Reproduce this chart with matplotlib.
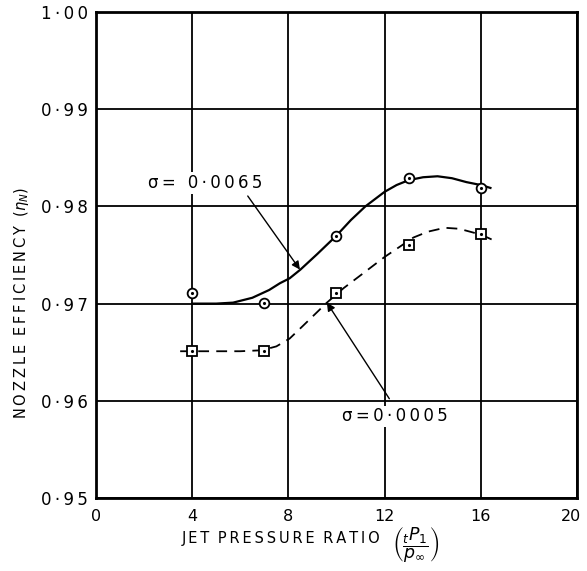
import matplotlib.pyplot as plt
import matplotlib as mpl
import matplotlib.transforms as mtrans

mpl.rcParams['font.family'] = ['DejaVu Sans']
mpl.rcParams['mathtext.fontset'] = 'dejavusans'

# test points
pr_points = [4, 7, 10, 13, 16]
eff_sigma_65 = [0.9711, 0.9701, 0.9770, 0.9829, 0.9819]
eff_sigma_05 = [0.9651, 0.9651, 0.9711, 0.9760, 0.9772]

# faired curves through the points
pr_fair_65 = [4.0, 5.0, 5.7, 6.5, 7.2, 7.65, 8.05, 8.5, 9.2, 10.0, 10.6, 11.2, 12.0, 12.5, 13.0, 13.6, 14.2, 14.8, 15.4, 16.0, 16.4]
eff_fair_65 = [0.9700, 0.9700, 0.9701, 0.9706, 0.9714, 0.9721, 0.9726, 0.9735, 0.9751, 0.9770, 0.9786, 0.9800, 0.9815, 0.9822, 0.9827, 0.9830, 0.9831, 0.9829, 0.9825, 0.9822, 0.9819]

pr_fair_05 = [3.5, 4.0, 5.0, 6.0, 6.9, 7.5, 8.05, 8.6, 9.1, 9.6, 10.3, 11.1, 12.0, 12.6, 13.2, 13.8, 14.5, 15.1, 15.7, 16.1, 16.45]
eff_fair_05 = [0.9651, 0.9651, 0.9651, 0.9651, 0.9652, 0.9656, 0.9664, 0.9677, 0.9689, 0.9701, 0.9716, 0.9731, 0.9748, 0.9758, 0.9768, 0.9774, 0.9778, 0.9777, 0.9773, 0.9770, 0.9766]

x_ticks = [0, 4, 8, 12, 16, 20]
y_ticks = [0.95, 0.96, 0.97, 0.98, 0.99, 1.00]
y_tick_labels = ['0·95', '0·96', '0·97', '0·98', '0·99', '1·00']

TS = '\u2009'


def spaced(s):
    # open up the lettering a little, like hand-drawn caps
    return TS.join(s)


fig = plt.figure(figsize=(5.87, 5.71), dpi=100)
ax = fig.add_axes([0.1635, 0.1278, 0.8195, 0.8512])

ax.set_xlim(0, 20)
ax.set_ylim(0.95, 1.00)
ax.set_xticks(x_ticks)
ax.set_xticklabels([str(t) for t in x_ticks], fontsize=11.5)
ax.set_yticks(y_ticks)
ax.set_yticklabels([spaced(t) for t in y_tick_labels], fontsize=12)
ax.tick_params(axis='y', length=0, pad=6)
ax.tick_params(axis='x', length=0, pad=8)
ax.grid(True, color='black', lw=1.3)
ax.set_axisbelow(True)
for s in ax.spines.values():
    s.set_linewidth(2)

# nudge the last x label in so it stays on the sheet
last = ax.get_xticklabels()[-1]
last.set_transform(last.get_transform() + mtrans.ScaledTranslation(-4 / 72, 0, fig.dpi_scale_trans))

ax.plot(pr_fair_65, eff_fair_65, color='black', lw=1.6, zorder=3)
ax.plot(pr_fair_05, eff_fair_05, color='black', lw=1.3, ls=(0, (6, 4)), zorder=3)

ax.plot(pr_points, eff_sigma_65, 'o', ms=7, mfc='white', mec='black', mew=1.3, zorder=4)
ax.plot(pr_points, eff_sigma_65, '.', ms=2.5, color='black', zorder=5)
ax.plot(pr_points, eff_sigma_05, 's', ms=7, mfc='white', mec='black', mew=1.3, zorder=4)
ax.plot(pr_points, eff_sigma_05, '.', ms=2.5, color='black', zorder=5)

box = dict(boxstyle='square,pad=0.1', fc='white', ec='none')
ax.annotate(spaced('σ= 0·0065'), xy=(8.48, 0.9735), xytext=(4.53, 0.9824),
            fontsize=12, ha='center', va='center', bbox=box,
            arrowprops=dict(arrowstyle='-|>', color='black', lw=1, shrinkA=2, shrinkB=0,
                            mutation_scale=12, relpos=(0.85, 0.0)))
ax.annotate(spaced('σ=0·0005'), xy=(9.6, 0.9701), xytext=(12.43, 0.9584),
            fontsize=12, ha='center', va='center', bbox=box,
            arrowprops=dict(arrowstyle='-|>', color='black', lw=1, shrinkA=6, shrinkB=0,
                            mutation_scale=12, relpos=(0.5, 1.0)))

W, H = 587, 571
fig.text(22 / W, 1 - 303 / H,
         spaced('NOZZLE') + TS * 3 + spaced('EFFICIENCY') + TS * 3 + r'$(\eta_N)$',
         rotation=90, fontsize=10.5, ha='center', va='center')
fig.text(182 / W, 1 - 538 / H,
         spaced('JET') + TS * 3 + spaced('PRESSURE') + TS * 3 + spaced('RATIO'),
         fontsize=10.5, ha='left', va='center')
fig.text(392 / W, 1 - 545 / H, r'$\left(\dfrac{{}_{t}P_1}{p_\infty}\right)$',
         fontsize=12.5, ha='left', va='center')

fig.savefig('out.png', dpi=100)
